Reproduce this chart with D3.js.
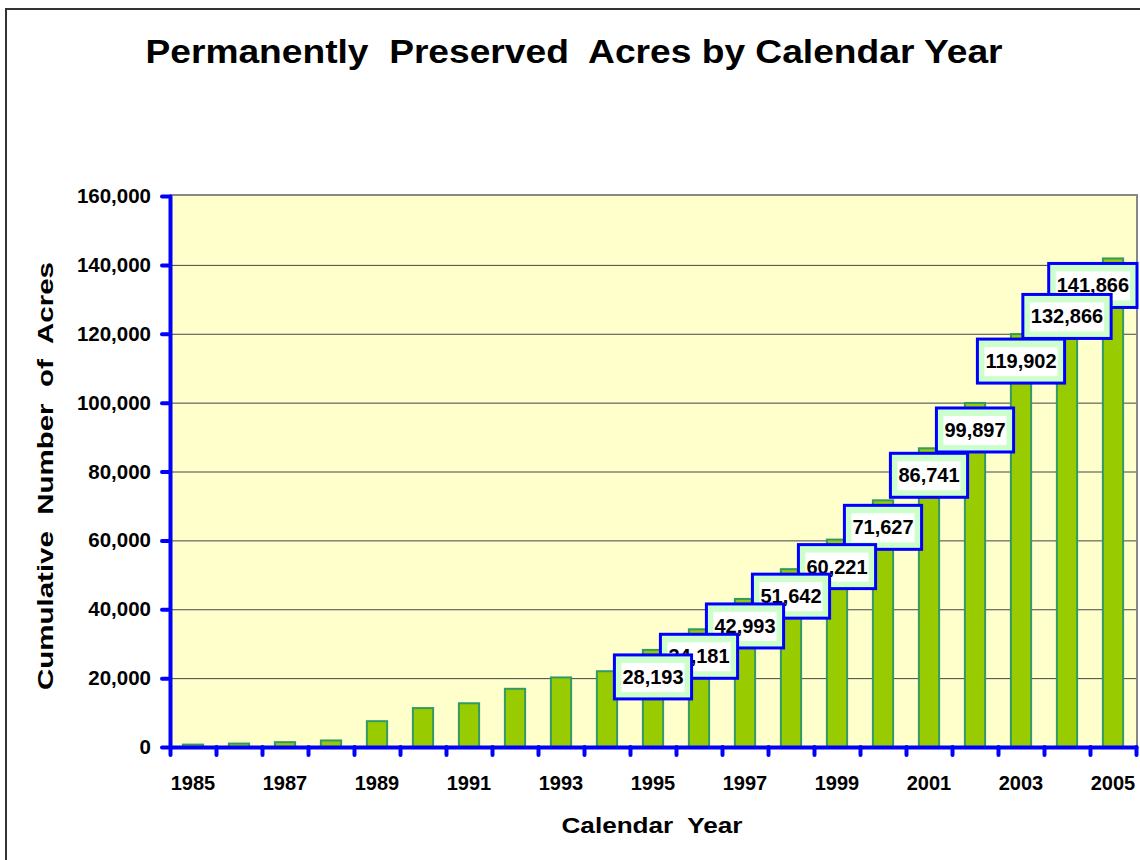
<!DOCTYPE html>
<html>
<head>
<meta charset="utf-8">
<script src="https://cdn.jsdelivr.net/npm/d3@7"></script>
<style>
  body { margin: 0; background: #fff; }
  text { font-family: "Liberation Sans", Arial, sans-serif; font-weight: bold; white-space: pre; }
</style>
</head>
<body>
<svg id="chart" width="1140" height="860"></svg>
<script>
const years = d3.range(1985, 2006);
const acres = [700, 1000, 1400, 1900, 7500, 11300, 12700, 16900, 20200, 22000,
  28193, 34181, 42993, 51642, 60221, 71627, 86741, 99897, 119902, 132866, 141866];
const labelledFrom = 1995; // values shown in boxes from this year on
const yTicks = [0, 20000, 40000, 60000, 80000, 100000, 120000, 140000, 160000];
const xTickLabels = years.filter(y => y % 2 === 1);

const svg = d3.select("#chart");
const plotL = 170, plotR = 1136, plotT = 196, plotB = 747;

// outer chart frame (only left/top edges visible)
svg.append("rect")
  .attr("x", 6).attr("y", 9).attr("width", 1150).attr("height", 870)
  .attr("fill", "none").attr("stroke", "#333").attr("stroke-width", 2);

svg.append("text")
  .attr("x", 574).attr("y", 63)
  .attr("text-anchor", "middle")
  .attr("font-size", 34)
  .attr("textLength", 857).attr("lengthAdjust", "spacingAndGlyphs")
  .text("Permanently  Preserved  Acres by Calendar Year");

const x = d3.scaleBand()
  .domain(years)
  .range([plotL, plotR])
  .paddingInner(0.56)
  .paddingOuter(0.28);

const xEdges = d3.scaleLinear().domain([0, years.length]).range([plotL, plotR]);

const y = d3.scaleLinear().domain([0, 160000]).range([plotB, plotT]);

// plot background
svg.append("rect")
  .attr("x", plotL).attr("y", plotT)
  .attr("width", plotR - plotL).attr("height", plotB - plotT)
  .attr("fill", "#FFFFCC");

// plot border top / right
svg.append("path")
  .attr("d", `M${plotL},${plotT - 1}H${plotR + 1}V${plotB}`)
  .attr("fill", "none").attr("stroke", "#888").attr("stroke-width", 2);

// gridlines
svg.append("g")
  .selectAll("line")
  .data(yTicks.slice(1, -1))
  .join("line")
  .attr("x1", plotL).attr("x2", plotR)
  .attr("y1", d => y(d) + 0.5).attr("y2", d => y(d) + 0.5)
  .attr("stroke", "#444").attr("stroke-width", 1);

// bars
svg.append("g")
  .selectAll("rect")
  .data(years)
  .join("rect")
  .attr("x", d => x(d))
  .attr("y", (d, i) => y(acres[i]))
  .attr("width", x.bandwidth())
  .attr("height", (d, i) => plotB - y(acres[i]))
  .attr("fill", "#99CC00")
  .attr("stroke", "#339966")
  .attr("stroke-width", 2);

// axes
const styleAxis = g => {
  g.select(".domain").attr("stroke", "#0000FF").attr("stroke-width", 4).attr("stroke-linecap", "round");
  g.selectAll(".tick line").attr("stroke", "#0000FF").attr("stroke-width", 4).attr("stroke-linecap", "round");
  g.selectAll("text").attr("fill", "#000");
};

svg.append("g")
  .attr("transform", `translate(${plotL},0)`)
  .call(d3.axisLeft(y).tickValues(yTicks).tickSize(8).tickSizeOuter(0).tickPadding(11).tickFormat(d3.format(",")))
  .call(g => g.selectAll("text").attr("font-size", 20.5).attr("font-family", null))
  .call(styleAxis);

svg.append("g")
  .attr("transform", `translate(0,${plotB})`)
  .call(d3.axisBottom(xEdges).tickValues(d3.range(0, years.length + 1)).tickSize(8).tickSizeOuter(0).tickFormat(""))
  .call(styleAxis);

svg.append("g")
  .attr("transform", `translate(0,${plotB})`)
  .call(d3.axisBottom(x).tickValues(xTickLabels).tickSize(0).tickPadding(29))
  .call(g => g.select(".domain").remove())
  .call(g => g.selectAll("text").attr("font-size", 20).attr("font-family", null).attr("fill", "#000"));

// axis titles
svg.append("text")
  .attr("transform", "translate(53,476) rotate(-90)")
  .attr("text-anchor", "middle")
  .attr("font-size", 22)
  .attr("textLength", 428).attr("lengthAdjust", "spacingAndGlyphs")
  .text("Cumulative  Number  of  Acres");

svg.append("text")
  .attr("x", 652).attr("y", 833)
  .attr("text-anchor", "middle")
  .attr("font-size", 22)
  .attr("textLength", 181).attr("lengthAdjust", "spacingAndGlyphs")
  .text("Calendar  Year");

// value boxes, earlier years drawn on top; kept inside the plot on the right
const fmt = d3.format(",");
const labelled = years.map((yr, i) => ({ yr, v: acres[i] })).filter(d => d.yr >= labelledFrom).reverse();
const boxes = svg.append("g").selectAll("g").data(labelled).join("g");

boxes.each(function(d) {
  const g = d3.select(this);
  const outer = g.append("rect");
  const inner = g.append("rect");
  const t = g.append("text")
    .attr("text-anchor", "middle")
    .attr("y", 29)
    .attr("font-size", 20)
    .text(fmt(d.v));
  const w = t.node().getComputedTextLength();
  const half = w / 2 + 8;
  const cx = Math.min(x(d.yr) + x.bandwidth() / 2, plotR + 1 - half);
  g.attr("transform", `translate(${cx},${y(d.v) + 5})`);
  outer.attr("x", -half).attr("y", 0).attr("width", half * 2).attr("height", 44)
    .attr("fill", "#CCFFCC").attr("stroke", "#0000FF").attr("stroke-width", 3);
  inner.attr("x", -w / 2 - 1).attr("y", 8).attr("width", w + 2).attr("height", 29)
    .attr("fill", "#fff");
});
</script>
</body>
</html>
